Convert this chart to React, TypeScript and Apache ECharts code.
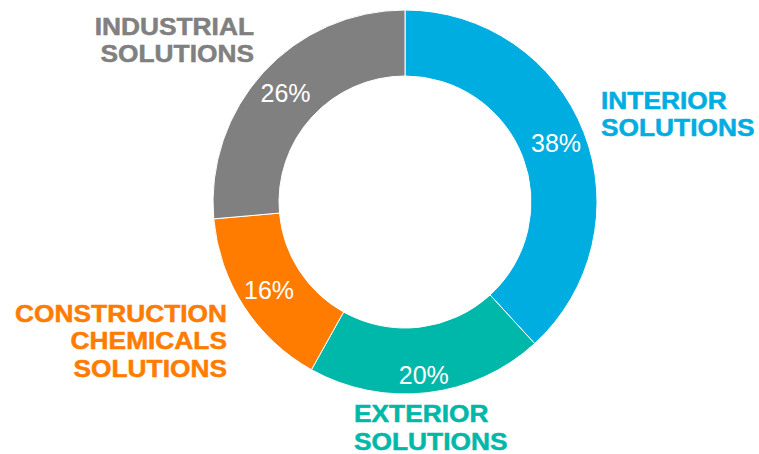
import React, { useEffect, useRef } from "react";
import * as echarts from "echarts";

const categories = ["INTERIOR\nSOLUTIONS", "EXTERIOR\nSOLUTIONS", "CONSTRUCTION\nCHEMICALS\nSOLUTIONS", "INDUSTRIAL\nSOLUTIONS"];
const shares = [38.2, 19.9, 15.5, 26.4];
const colors = ["#00ADE0", "#00B8A9", "#FF7C00", "#808080"];

export default function App() {
  const ref = useRef<HTMLDivElement>(null);
  useEffect(() => {
    document.body.style.margin = "0";
    const chart = echarts.init(ref.current!, null, { renderer: "svg" });
    const nameLabels = [
      { x: 601, y: 100.5, align: "left" },
      { x: 354, y: 414, align: "left" },
      { x: 227, y: 313.5, align: "right" },
      { x: 254, y: 26.5, align: "right" },
    ];
    const lineGap = 27.5;
    const graphic: any[] = [];
    categories.forEach((c, i) => {
      c.split("\n").forEach((line, k) => {
        graphic.push({
          type: "text",
          x: nameLabels[i].x,
          y: nameLabels[i].y + k * lineGap,
          scaleX: 1.12,
          style: {
            text: line,
            fill: colors[i],
            stroke: colors[i],
            lineWidth: 0.5,
            font: "bold 23.5px 'Liberation Sans', Arial, sans-serif",
            textAlign: nameLabels[i].align,
            textVerticalAlign: "middle",
            lineHeight: 18,
          },
        });
      });
    });
    chart.setOption({
      animation: false,
      series: [
        {
          type: "pie",
          center: [405, 202],
          radius: [126, 192],
          startAngle: 90,
          clockwise: true,
          silent: true,
          itemStyle: { borderColor: "#ffffff", borderWidth: 1 },
          label: {
            show: true,
            position: "inside",
            color: "#ffffff",
            fontFamily: "Liberation Sans, Arial, sans-serif",
            fontSize: 25,
            formatter: (p: any) => Math.round(p.value) + "%",
          },
          labelLine: { show: false },
          data: shares.map((v, i) => ({
            value: v,
            name: categories[i],
            itemStyle: { color: colors[i] },
            label: i === 1 ? { offset: [0, 12] } : {},
          })),
        },
      ],
      graphic,
    });
    return () => chart.dispose();
  }, []);
  return <div ref={ref} style={{ width: 759, height: 454 }} />;
}
